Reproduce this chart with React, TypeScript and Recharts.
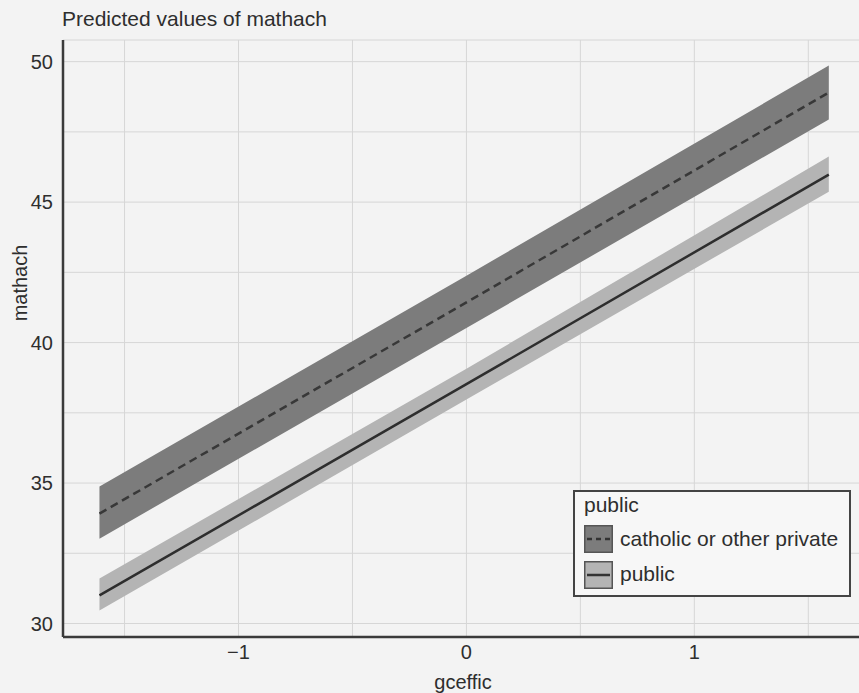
import { Area, CartesianGrid, ComposedChart, Legend, Line, XAxis, YAxis } from "recharts";

const gceffic = [-1.61, 0, 1.59];

const catholicFit = [33.91, 41.43, 48.9];
const catholicLow = [33.02, 40.52, 47.94];
const catholicHigh = [34.88, 42.38, 49.86];

const publicFit = [31.0, 38.52, 45.98];
const publicLow = [30.46, 37.97, 45.37];
const publicHigh = [31.6, 39.07, 46.62];

const xTicks = [-1.5, -1, -0.5, 0, 0.5, 1, 1.5];
const yTicks = [30, 32.5, 35, 37.5, 40, 42.5, 45, 47.5, 50];

const legendTitle = "public";
const seriesNames = ["catholic or other private", "public"];

const FONT = '"Liberation Sans", Arial, Helvetica, sans-serif';
const TEXT = "#2e2e2e";
const DARK_BAND = "#7c7c7c";
const LIGHT_BAND = "#b4b4b4";

const data = gceffic.map((x, i) => ({
  x,
  catholicFit: catholicFit[i],
  catholicBand: [catholicLow[i], catholicHigh[i]],
  publicFit: publicFit[i],
  publicBand: [publicLow[i], publicHigh[i]],
}));

function formatX(v: number) {
  if (!Number.isInteger(v)) return "";
  return v < 0 ? `\u2212${Math.abs(v)}` : String(v);
}

function formatY(v: number) {
  return v % 5 === 0 ? String(v) : "";
}

function LegendBox() {
  const swatch = (fill: string, dash?: string) => (
    <svg width={29} height={28} style={{ display: "block" }}>
      <rect x={0.75} y={0.75} width={27.5} height={26.5} fill={fill} stroke="#555" strokeWidth={1.5} />
      <line x1={3} y1={14} x2={26} y2={14} stroke="#333" strokeWidth={2.5} strokeDasharray={dash} />
    </svg>
  );
  const label = { position: "absolute" as const, left: 45, fontSize: 21, lineHeight: "21px", color: TEXT, whiteSpace: "nowrap" as const };
  return (
    <div style={{ position: "relative", width: 278, height: 107, boxSizing: "border-box", border: "2px solid #444", background: "#f7f7f7", fontFamily: FONT }}>
      <div style={{ ...label, left: 9, top: 2 }}>{legendTitle}</div>
      <div style={{ position: "absolute", left: 9, top: 33 }}>{swatch(DARK_BAND, "5 4")}</div>
      <div style={{ ...label, top: 36 }}>{seriesNames[0]}</div>
      <div style={{ position: "absolute", left: 9, top: 69 }}>{swatch(LIGHT_BAND)}</div>
      <div style={{ ...label, top: 71 }}>{seriesNames[1]}</div>
    </div>
  );
}

export default function App() {
  return (
    <div style={{ position: "fixed", left: 0, top: 0, width: 859, height: 693, overflow: "hidden", background: "#f3f3f3", fontFamily: FONT }}>
      <ComposedChart width={900} height={693} data={data} margin={{ top: 40, right: 37, bottom: 0, left: 0 }}>
        <CartesianGrid stroke="#d6d6d6" strokeWidth={1} />
        <XAxis
          type="number"
          dataKey="x"
          domain={[-1.77, 1.74]}
          ticks={xTicks}
          tickFormatter={formatX}
          allowDataOverflow
          height={56}
          tickLine={false}
          axisLine={{ stroke: "#3a3a3a", strokeWidth: 2.5 }}
          tick={{ fill: TEXT, fontSize: 20, fontFamily: FONT }}
          label={{ value: "gceffic", position: "insideBottom", offset: 4, fill: TEXT, fontSize: 20, fontFamily: FONT }}
        />
        <YAxis
          type="number"
          domain={[29.52, 50.77]}
          ticks={yTicks}
          tickFormatter={formatY}
          allowDataOverflow
          width={63}
          tickLine={false}
          tickMargin={4}
          axisLine={{ stroke: "#3a3a3a", strokeWidth: 2.5 }}
          tick={{ fill: TEXT, fontSize: 20, fontFamily: FONT }}
          label={{
            content: () => (
              <text transform="translate(27,283) rotate(-90)" textAnchor="middle" fill={TEXT} fontSize={20} fontFamily={FONT}>
                mathach
              </text>
            ),
          }}
        />
        <Area type="linear" dataKey="catholicBand" stroke="none" fill={DARK_BAND} fillOpacity={1} isAnimationActive={false} />
        <Area type="linear" dataKey="publicBand" stroke="none" fill={LIGHT_BAND} fillOpacity={1} isAnimationActive={false} />
        <Line type="linear" dataKey="catholicFit" stroke="#383838" strokeWidth={2.5} strokeDasharray="8 5" dot={false} activeDot={false} isAnimationActive={false} />
        <Line type="linear" dataKey="publicFit" stroke="#2e2e2e" strokeWidth={2.5} dot={false} activeDot={false} isAnimationActive={false} />
        <Legend
          layout="vertical"
          align="center"
          verticalAlign="middle"
          content={() => <LegendBox />}
          wrapperStyle={{ position: "absolute", left: 573, top: 490, width: 278, height: 107 }}
        />
        <text x={62} y={26} fill={TEXT} fontSize={21} fontFamily={FONT}>
          Predicted values of mathach
        </text>
      </ComposedChart>
    </div>
  );
}
